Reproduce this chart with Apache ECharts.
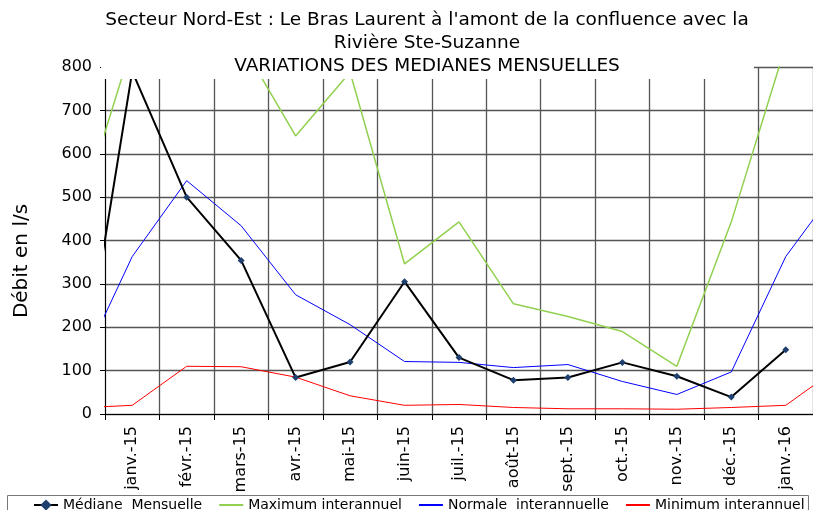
<!DOCTYPE html>
<html lang="fr">
<head>
    <meta charset="UTF-8">
    <title>Variations des médianes mensuelles</title>
    <script src="https://cdn.jsdelivr.net/npm/echarts@6/dist/echarts.min.js"></script>
</head>
<body style="margin:0">
<div id="pic1" style="width: 813px;height:510px;"></div>
<script>
    // mois affichés sur l'axe
    var months = ['janv.-15', 'févr.-15', 'mars-15', 'avr.-15', 'mai-15', 'juin-15', 'juil.-15',
        'août-15', 'sept.-15', 'oct.-15', 'nov.-15', 'déc.-15', 'janv.-16'];
    // valeurs en l/s ; 1er point = déc.-14 et dernier = févr.-16 (hors cadre, coupés au bord)
    var mediane = [14, 790, 500, 354, 84, 120, 305, 130, 78, 84, 119, 87, 39, 148];
    var maximum = [448, 852, 950, 856, 641, 788, 346, 443, 254, 225, 190, 110, 443, 850, 900];
    var normale = [95, 363, 538, 434, 275, 206, 121, 119, 107, 114, 75, 45, 97, 363, 533];
    var minimum = [14, 20, 110, 109, 85, 42, 20, 22, 15, 12, 12, 11, 15, 20, 110];
    var yTicks = [0, 100, 200, 300, 400, 500, 600, 700, 800];

    var font = 'DejaVu Sans';

    // position x : -0.5 = mois précédent, i + 0.5 = centre du mois i
    function toPoints(values) {
        return values.map(function (v, i) {
            var item = {value: [i - 0.5, v]};
            if (i === 0) item.symbol = 'none';
            return item;
        });
    }

    var myCharts1 = echarts.init(document.getElementById('pic1'));
    var option1 = {
        backgroundColor: 'white',
        animation: false,
        textStyle: {fontFamily: font},
        title: {
            text: 'Secteur Nord-Est : Le Bras Laurent à l\'amont de la confluence avec la\nRivière Ste-Suzanne\nVARIATIONS DES MEDIANES MENSUELLES',
            left: 427,
            top: 9,
            padding: 0,
            z: 200,
            textAlign: 'center',
            textStyle: {fontFamily: font, fontSize: 18.5, fontWeight: 'normal', color: '#000', lineHeight: 23}
        },
        legend: {
            left: 33,
            top: 498,
            padding: 0,
            itemWidth: 24,
            itemHeight: 14,
            itemGap: 16,
            selectedMode: false,
            textStyle: {fontFamily: font, fontSize: 14, color: '#000'},
            data: [
                {name: 'Médiane  Mensuelle'},
                {name: 'Maximum interannuel', itemStyle: {opacity: 0}},
                {name: 'Normale  interannuelle', itemStyle: {opacity: 0}},
                {name: 'Minimum interannuel', itemStyle: {opacity: 0}}
            ]
        },
        graphic: [
            // cadre du titre qui masque le haut du graphique
            {type: 'rect', z: 100, shape: {x: 101, y: 0, width: 653, height: 79}, style: {fill: '#fff'}},
            // cadre de la légende
            {type: 'rect', z: 100, shape: {x: 7.5, y: 495.5, width: 801, height: 40},
                style: {fill: 'none', stroke: '#777', lineWidth: 1}},
            {type: 'text', z: 100, x: 22, y: 261, rotation: Math.PI / 2,
                style: {text: 'Débit en l/s', font: '20px "DejaVu Sans"', fill: '#000', align: 'center', verticalAlign: 'middle'}}
        ],
        grid: {left: 105, right: 0, top: 67, bottom: 96},
        xAxis: [
            {
                type: 'category',
                data: months,
                boundaryGap: true,
                axisLine: {lineStyle: {color: '#000', width: 1}},
                axisTick: {show: true, length: 6, lineStyle: {color: '#000'}},
                axisLabel: {rotate: 90, margin: 12, fontSize: 16, color: '#000', fontFamily: font},
                splitLine: {show: true, lineStyle: {color: '#555', width: 1.3}}
            },
            {
                type: 'value',
                show: false,
                min: 0,
                max: months.length
            }
        ],
        yAxis: {
            type: 'value',
            min: yTicks[0],
            max: yTicks[yTicks.length - 1],
            interval: 100,
            axisLine: {show: true, lineStyle: {color: '#000'}},
            axisTick: {show: true, length: 5, lineStyle: {color: '#000'}},
            axisLabel: {margin: 13, fontSize: 16, color: '#000', fontFamily: font},
            splitLine: {show: true, lineStyle: {color: '#555', width: 1.3}}
        },
        series: [
            {
                name: 'Médiane  Mensuelle',
                type: 'line',
                xAxisIndex: 1,
                clip: true,
                z: 5,
                symbol: 'diamond',
                symbolSize: 7,
                itemStyle: {color: '#1F3F6E'},
                lineStyle: {color: '#000', width: 2},
                data: toPoints(mediane)
            },
            {
                name: 'Maximum interannuel',
                type: 'line',
                xAxisIndex: 1,
                clip: true,
                symbol: 'none',
                itemStyle: {color: '#92D050'},
                lineStyle: {color: '#92D050', width: 1.5},
                data: toPoints(maximum)
            },
            {
                name: 'Normale  interannuelle',
                type: 'line',
                xAxisIndex: 1,
                clip: true,
                symbol: 'none',
                itemStyle: {color: '#0000FF'},
                lineStyle: {color: '#0000FF', width: 1},
                data: toPoints(normale)
            },
            {
                name: 'Minimum interannuel',
                type: 'line',
                xAxisIndex: 1,
                clip: true,
                symbol: 'none',
                itemStyle: {color: '#FF0000'},
                lineStyle: {color: '#FF0000', width: 1},
                data: toPoints(minimum)
            }
        ]
    };

    myCharts1.setOption(option1, true);
</script>
</body>
</html>
